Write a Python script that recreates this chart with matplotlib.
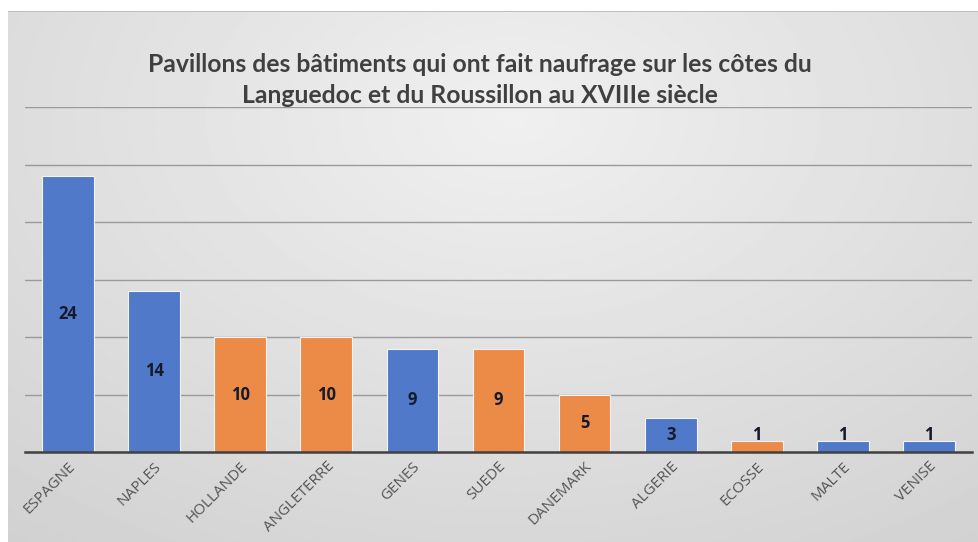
import numpy as np
import matplotlib.pyplot as plt

pays = ['ESPAGNE', 'NAPLES', 'HOLLANDE', 'ANGLETERRE', 'GENES', 'SUEDE',
        'DANEMARK', 'ALGERIE', 'ECOSSE', 'MALTE', 'VENISE']
naufrages = [24, 14, 10, 10, 9, 9, 5, 3, 1, 1, 1]
couleur_pays = ['bleu', 'bleu', 'orange', 'orange', 'bleu', 'orange',
                'orange', 'bleu', 'orange', 'bleu', 'bleu']

titre = "Pavillons des bâtiments qui ont fait naufrage sur les côtes du\nLanguedoc et du Roussillon au XVIIIe siècle"

couleurs = {'bleu': '#5079c9', 'orange': '#ec8a48'}

fig = plt.figure(figsize=(9.79, 5.42), dpi=100)

# fond en degrade gris
bg = fig.add_axes([8/979, 0, 1 - 8/979, 1 - 11/542])
yy, xx = np.mgrid[0:1:300j, 0:1:500j]
d = np.sqrt(((xx - 0.52) / 0.75) ** 2 + ((yy - 0.2) / 0.9) ** 2)
g = 0.94 - 0.14 * np.clip(d, 0, 1.3) / 1.3
bg.imshow(g, cmap='gray', vmin=0, vmax=1, aspect='auto', extent=[0, 1, 1, 0])
bg.axhline(0, color='#b8b8b8', lw=1.2)
bg.set_axis_off()

ax = fig.add_axes([25/979, 1 - 452/542, 947/979, (452 - 107)/542])
ax.patch.set_alpha(0)
x = np.arange(len(pays))
cols = [couleurs[c] for c in couleur_pays]
ax.bar(x, naufrages, width=0.6, color=cols, edgecolor='#f4f4f4', linewidth=0.8, zorder=3)
ax.set_xlim(-0.5, len(pays) - 0.5)
ax.set_ylim(0, 30)
ax.set_yticks(np.arange(5, 31, 5))
ax.yaxis.grid(True, color='#9a9a9a', lw=1.0, zorder=0)
ax.tick_params(axis='y', left=False, labelleft=False)
ax.tick_params(axis='x', length=0, pad=5)
for s in ['top', 'right', 'left']:
    ax.spines[s].set_visible(False)
ax.spines['bottom'].set_color('#404040')
ax.spines['bottom'].set_linewidth(1.8)
ax.spines['bottom'].set_zorder(4)

ax.set_xticks(x)
ax.set_xticklabels(pays, rotation=45, ha='right', rotation_mode='anchor',
                   fontsize=11, color='#555555', family='Open Sans')
for lab in ax.get_xticklabels():
    lab.set_x(lab.get_position()[0])

for xi, v in zip(x, naufrages):
    ax.text(xi, max(v / 2, 1.5), str(v), ha='center', va='center',
            fontsize=12, fontweight='bold', color='#151a2a', zorder=5, family='Open Sans')

fig.text(0.49, 1 - 80/542, titre, ha='center', va='center', fontsize=17.8,
         fontweight='bold', color='#404040', family='Lato', linespacing=1.45)

fig.savefig('out.png', dpi=100)
